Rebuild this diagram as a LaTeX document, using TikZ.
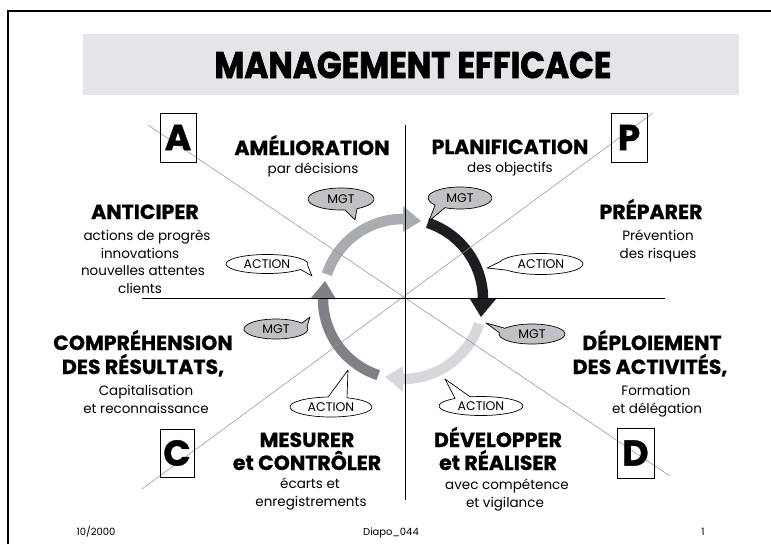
\documentclass[tikz,border=0pt]{standalone}
\usepackage{fontspec}
\setmainfont{Poppins}
\usetikzlibrary{shapes.geometric}

\definecolor{bandgray}{HTML}{E3E5E9}
\definecolor{arcone}{HTML}{A9ACB0}
\definecolor{arctwo}{HTML}{1C1D20}
\definecolor{arcthree}{HTML}{D6D8DB}
\definecolor{arcfour}{HTML}{7F8185}
\definecolor{mgtfill}{HTML}{BFC1C5}
\definecolor{diaggray}{HTML}{8C8C8C}

\begin{document}
\begin{tikzpicture}[x=1pt,y=1pt,
  head/.style={font=\fontsize{20.5}{22}\selectfont\bfseries\addfontfeature{FakeBold=0.8},
    anchor=base, inner sep=0pt},
  sub/.style={font=\fontsize{13.5}{15}\selectfont, anchor=base, inner sep=0pt},
  foot/.style={font=\fontsize{10}{11}\selectfont, anchor=base, inner sep=0pt},
  letterbox/.style={draw, line width=1pt, inner sep=0pt,
    font=\fontsize{36}{36}\selectfont\bfseries\addfontfeature{FakeBold=1}},
  bubble/.style={draw, line width=0.7pt, line join=round},
  bubbletext/.style={font=\fontsize{12.5}{13}\selectfont, inner sep=0pt},
  diag/.style={draw=diaggray, line width=0.5pt},
  axis/.style={draw, line width=1pt},
  cycleband/.style={line width=10.5pt}
]
\useasboundingbox (0,0) rectangle (771,-544);

% page frame
\draw[line width=1.6pt] (8,-544) -- (8,-11) -- (771,-11);

% title band
\fill[bandgray] (83,-34) rectangle (739,-95);
\node[anchor=base, inner sep=0pt,
  font=\fontsize{37}{40}\selectfont\bfseries\addfontfeature{FakeBold=2}]
  (title) at (413,-78) {\scalebox{0.88}[1]{MANAGEMENT EFFICACE}};

% the four-step cycle
\begin{scope}[shift={(403,-299)}]
  \draw[arcone, cycleband] (162:80) arc[start angle=162, end angle=90, radius=80];
  \fill[arcone] (90:67) -- (90:93) -- (77:80) -- cycle;
  \draw[arctwo, cycleband] (72:80) arc[start angle=72, end angle=0, radius=80];
  \fill[arctwo] (0:67) -- (0:93) -- (-13:80) -- cycle;
  \draw[arcthree, cycleband] (-18:80) arc[start angle=-18, end angle=-90, radius=80];
  \fill[arcthree] (-90:67) -- (-90:93) -- (-103:80) -- cycle;
  \draw[arcfour, cycleband] (-108:80) arc[start angle=-108, end angle=-180, radius=80];
  \fill[arcfour] (-180:67) -- (-180:93) -- (-193:80) -- cycle;
\end{scope}

% diagonals and axes
\coordinate (dA) at (148,-125);
\coordinate (dD) at (670,-476);
\coordinate (dP) at (653,-113);
\coordinate (dC) at (142,-489);
\coordinate (axN) at (405,-125);
\coordinate (axS) at (405,-500);
\coordinate (axW) at (142,-298);
\coordinate (axE) at (665,-298);
\draw[diag] (dA) -- (dD);
\draw[diag] (dP) -- (dC);
\draw[axis] (axN) -- (axS);
\draw[axis] (axW) -- (axE);

% speech bubbles
\path[bubble, fill=mgtfill] (341,-199) ++(-61:33 and 11)
  arc[start angle=-61, end angle=277, x radius=33, y radius=11] -- (355,-220) -- cycle;
\node[bubbletext] (mgtA) at (341,-199) {MGT};

\path[bubble, fill=mgtfill] (460,-198) ++(-118:32 and 11)
  arc[start angle=-118, end angle=219, x radius=32, y radius=11] -- (429,-221) -- cycle;
\node[bubbletext] (mgtP) at (460,-198) {MGT};

\path[bubble, fill=white] (267,-264) ++(-8:41 and 9.5)
  arc[start angle=-8, end angle=325, x radius=41, y radius=9.5] -- (312,-276) -- cycle;
\node[bubbletext] (actA) at (267,-264) {ACTION};

\path[bubble, fill=white] (541,-264) ++(216:42 and 10.5)
  arc[start angle=216, end angle=527, x radius=42, y radius=10.5] -- (487,-268) -- cycle;
\node[bubbletext] (actP) at (541,-264) {ACTION};

\path[bubble, fill=mgtfill] (276,-329) ++(36:32 and 10)
  arc[start angle=36, end angle=374, x radius=32, y radius=10] -- (310,-317) -- cycle;
\node[bubbletext] (mgtC) at (276,-329) {MGT};

\path[bubble, fill=mgtfill] (532,-334) ++(172:33 and 10)
  arc[start angle=172, end angle=505, x radius=33, y radius=10] -- (486,-323) -- cycle;
\node[bubbletext] (mgtD) at (532,-334) {MGT};

\path[bubble, fill=white] (331,-407) ++(94:41 and 10)
  arc[start angle=94, end angle=427, x radius=41, y radius=10] -- (348,-370) -- cycle;
\node[bubbletext] (actC) at (331,-407) {ACTION};

\path[bubble, fill=white] (481,-406) ++(128:42 and 9.5)
  arc[start angle=128, end angle=465, x radius=42, y radius=9.5] -- (445,-379) -- cycle;
\node[bubbletext] (actD) at (481,-406) {ACTION};

% letter boxes
\node[letterbox, minimum width=36pt, minimum height=49pt] (boxA) at (178,-137.5) {A};
\node[letterbox, minimum width=36pt, minimum height=49pt] (boxP) at (629,-137.5) {P};
\node[letterbox, minimum width=34pt, minimum height=48pt] (boxC) at (177,-453) {C};
\node[letterbox, minimum width=37pt, minimum height=50pt] (boxD) at (635.5,-453) {D};

% quadrant texts
\node[head] (amel) at (312,-155) {AMÉLIORATION};
\node[sub]  (amels) at (313,-173) {par décisions};
\node[head] (plan) at (510,-154) {PLANIFICATION};
\node[sub]  (plans) at (510,-172) {des objectifs};

\node[head] (anti) at (145,-219) {ANTICIPER};
\node[sub]  (anti1) at (147,-240) {actions de progrès};
\node[sub]  (anti2) at (140,-258) {innovations};
\node[sub]  (anti3) at (143,-275) {nouvelles attentes};
\node[sub]  (anti4) at (140,-293) {clients};

\node[head] (prep) at (651,-219) {PRÉPARER};
\node[sub]  (prep1) at (658,-240) {Prévention};
\node[sub]  (prep2) at (658,-258) {des risques};

\node[head] (comp1) at (143,-350) {COMPRÉHENSION};
\node[head] (comp2) at (143,-374) {DES RÉSULTATS,};
\node[sub]  (comp3) at (146,-395) {Capitalisation};
\node[sub]  (comp4) at (146,-413) {et reconnaissance};

\node[head] (depl1) at (652,-350) {DÉPLOIEMENT};
\node[head] (depl2) at (650,-374) {DES ACTIVITÉS,};
\node[sub]  (depl3) at (656,-395) {Formation};
\node[sub]  (depl4) at (657,-413) {et délégation};

\node[head] (mes1) at (307,-447) {MESURER};
\node[head] (mes2) at (307,-470) {et CONTRÔLER};
\node[sub]  (mes3) at (310,-488) {écarts et};
\node[sub]  (mes4) at (311,-506) {enregistrements};

\node[head] (dev1) at (498,-447) {DÉVELOPPER};
\node[head] (dev2) at (498,-470) {et RÉALISER};
\node[sub]  (dev3) at (507,-489) {avec compétence};
\node[sub]  (dev4) at (505,-507) {et vigilance};

% footer
\node[foot] (date) at (96,-535) {10/2000};
\node[foot] (slide) at (391,-535) {Diapo\_044};
\node[foot] (page) at (703,-535) {1};
\end{tikzpicture}
\end{document}
